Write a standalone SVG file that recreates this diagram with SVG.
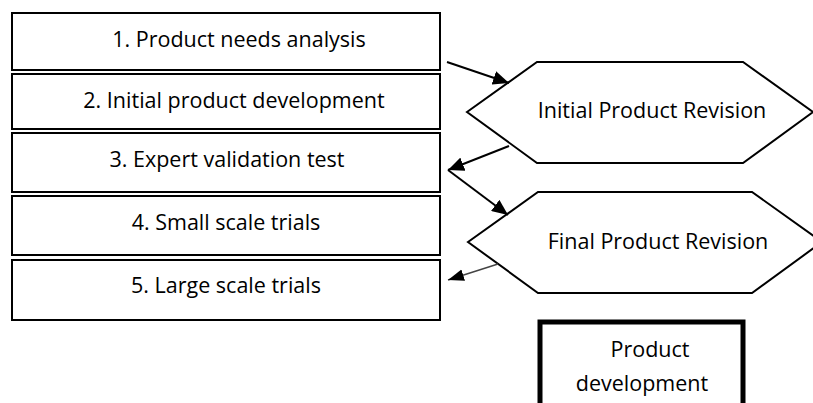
<svg xmlns="http://www.w3.org/2000/svg" width="813" height="403" viewBox="0 0 813 403">
<style>
.box{fill:#fff;stroke:#000;stroke-width:2}
.hex{fill:#fff;stroke:#000;stroke-width:2}
.t{font-family:"Open Sans","Liberation Sans",sans-serif;font-size:21.5px;fill:#000;text-anchor:middle}
.c{stroke:#000;stroke-width:2;fill:none}
</style>
<defs>
<marker id="ah" markerUnits="userSpaceOnUse" markerWidth="18" markerHeight="14" refX="16" refY="7" orient="auto">
<path d="M0,0 L16,7 L0,14 Z" fill="#000"/>
</marker>
<marker id="ahg" markerUnits="userSpaceOnUse" markerWidth="18" markerHeight="14" refX="16" refY="6" orient="auto">
<path d="M0,0 L16,6 L0,12 Z" fill="#000"/>
</marker>
</defs>
<rect width="813" height="403" fill="#fff"/>
<g id="step1"><rect class="box" x="12" y="13" width="428" height="57"/><text class="t" x="239" y="47">1. Product needs analysis</text></g>
<g id="step2"><rect class="box" x="12" y="74" width="428" height="55"/><text class="t" x="234" y="108">2. Initial product development</text></g>
<g id="step3"><rect class="box" x="12" y="133" width="428" height="59"/><text class="t" x="227" y="167">3. Expert validation test</text></g>
<g id="step4"><rect class="box" x="12" y="196" width="428" height="59"/><text class="t" x="226" y="230">4. Small scale trials</text></g>
<g id="step5"><rect class="box" x="12" y="260" width="428" height="60"/><text class="t" x="226" y="293">5. Large scale trials</text></g>
<g id="rev1"><polygon class="hex" points="467,112 537,62 743,62 813,112 743,163 537,163"/><text class="t" x="652" y="118">Initial Product Revision</text></g>
<g id="rev2"><polygon class="hex" points="468,242 538,192 752,192 822,242 752,293 538,293"/><text class="t" x="658" y="249">Final Product Revision</text></g>
<g id="product"><rect x="540" y="322" width="203" height="100" fill="#fff" stroke="#000" stroke-width="5"/><text class="t" x="650" y="357">Product</text><text class="t" x="642" y="391">development</text></g>
<g id="connectors">
<line class="c" x1="447" y1="62" x2="509" y2="83" marker-end="url(#ah)"/>
<line class="c" x1="509" y1="146" x2="448" y2="170" marker-end="url(#ah)"/>
<line class="c" x1="448" y1="170" x2="508" y2="215" marker-end="url(#ah)"/>
<line x1="498" y1="264" x2="448" y2="280" stroke="#444" stroke-width="1.5" marker-end="url(#ahg)"/>
</g>
</svg>
